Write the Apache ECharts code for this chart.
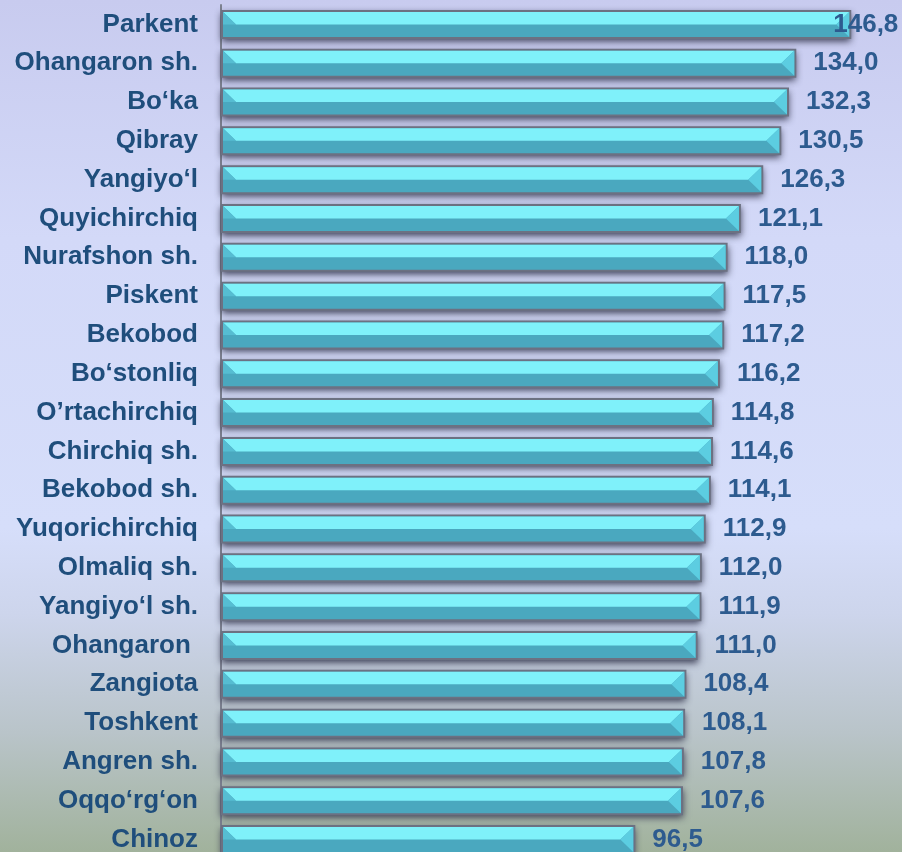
<!DOCTYPE html>
<html lang="en">

<head>
    <meta charset="UTF-8">
    <title>Chart</title>
    <script src="https://cdn.jsdelivr.net/npm/echarts@6/dist/echarts.min.js"></script>
    <style>
        html, body { margin: 0; padding: 0; }
        #main {
            width: 902px; height: 852px;
            background: linear-gradient(to bottom, #c8cbef 0%, #d3d9f8 28%, #d6defa 62%, #cdd5ec 72%, #b9c4c9 86%, #a1b29c 100%);
        }
    </style>
</head>

<body>
    <div id="main"></div>
    <script>
        var districts = [
            'Parkent', 'Ohangaron sh.', 'Bo‘ka', 'Qibray', 'Yangiyo‘l',
            'Quyichirchiq', 'Nurafshon sh.', 'Piskent', 'Bekobod', 'Bo‘stonliq',
            'O’rtachirchiq', 'Chirchiq sh.', 'Bekobod sh.', 'Yuqorichirchiq', 'Olmaliq sh.',
            'Yangiyo‘l sh.', 'Ohangaron ', 'Zangiota', 'Toshkent', 'Angren sh.',
            'Oqqo‘rg‘on', 'Chinoz'
        ];
        var values = [
            146.8, 134.0, 132.3, 130.5, 126.3,
            121.1, 118.0, 117.5, 117.2, 116.2,
            114.8, 114.6, 114.1, 112.9, 112.0,
            111.9, 111.0, 108.4, 108.1, 107.8,
            107.6, 96.5
        ];

        var myChart = echarts.init(document.getElementById('main'));

        var font = '"Liberation Sans", Arial, sans-serif';
        var data = values.map(function (v, i) { return [v, i]; });

        // bevelled 3d-ish bar, drawn from the axis scales
        function renderBar(params, api) {
            var p0 = api.coord([0, api.value(1)]);
            var p1 = api.coord([api.value(0), api.value(1)]);
            var h = 29, b = 2, bev = 13;
            var x0 = p0[0], x1 = p1[0], cy = p0[1];
            var top = cy - h / 2;
            var xi0 = x0 + b, xi1 = x1 - b, yi0 = top + b, yi1 = top + h - b;
            var mid = (yi0 + yi1) / 2;
            var txt = api.value(0).toFixed(1).replace('.', ',');
            var dx = params.dataIndex === 0 ? -18 : 17;
            return {
                type: 'group',
                children: [{
                    type: 'rect',
                    shape: { x: x0, y: top, width: x1 - x0, height: h },
                    style: {
                        fill: '#6c7182',
                        shadowBlur: 7,
                        shadowColor: 'rgba(50, 52, 75, 0.9)',
                        shadowOffsetY: 3
                    }
                }, {
                    type: 'rect',
                    shape: { x: xi0, y: yi0, width: xi1 - xi0, height: yi1 - yi0 },
                    style: { fill: '#4aa8bf' }
                }, {
                    type: 'polygon',
                    shape: { points: [[xi0, yi0], [xi1, yi0], [xi1 - bev, mid], [xi0 + bev, mid]] },
                    style: { fill: '#7ff1fa' }
                }, {
                    type: 'polygon',
                    shape: { points: [[xi0, yi0], [xi0 + bev, mid], [xi0, mid]] },
                    style: { fill: '#56bdd2' }
                }, {
                    type: 'polygon',
                    shape: { points: [[xi1, yi0], [xi1 - bev, mid], [xi1, yi1]] },
                    style: { fill: '#5ccde1' }
                }, {
                    type: 'text',
                    x: x1 + dx,
                    y: cy,
                    style: {
                        text: txt,
                        fill: '#2d5b8f',
                        font: 'bold 26px ' + font,
                        verticalAlign: 'middle',
                        align: 'left'
                    }
                }]
            };
        }

        var option = {
            animation: false,
            grid: {
                left: 221, width: 644, top: 5, height: 854,
                containLabel: false,
                outerBoundsMode: 'none'
            },
            xAxis: {
                type: 'value',
                min: 0,
                max: 150,
                show: false
            },
            yAxis: {
                type: 'category',
                data: districts,
                inverse: true,
                axisLine: { show: true, lineStyle: { color: '#7d8291', width: 2 } },
                axisTick: { show: false },
                axisLabel: {
                    margin: 23,
                    color: '#1f4e7c',
                    fontFamily: font,
                    fontWeight: 'bold',
                    fontSize: 26
                }
            },
            series: [{
                type: 'custom',
                renderItem: renderBar,
                encode: { x: 0, y: 1 },
                data: data
            }]
        };

        myChart.setOption(option);
    </script>
</body>

</html>
